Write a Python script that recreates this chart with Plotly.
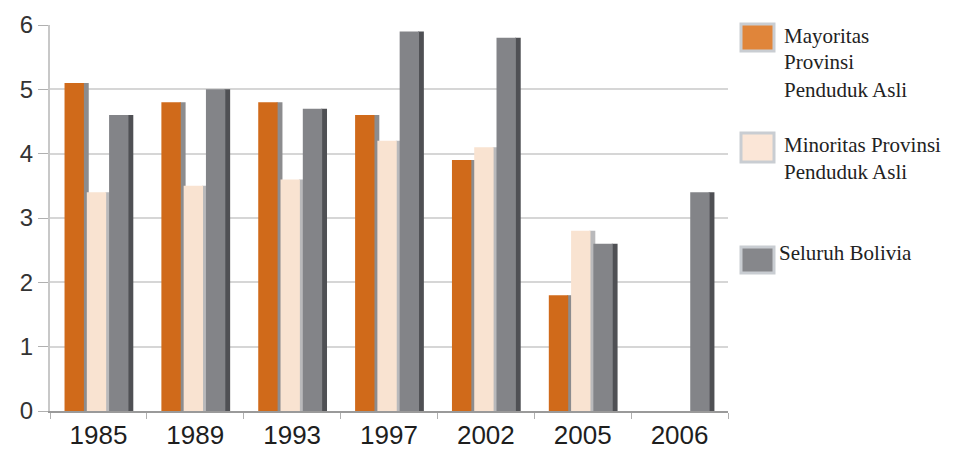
import plotly.graph_objects as go

# ---- data ----
years = ["1985", "1989", "1993", "1997", "2002", "2005", "2006"]
mayoritas = [5.1, 4.8, 4.8, 4.6, 3.9, 1.8, None]
minoritas = [3.4, 3.5, 3.6, 4.2, 4.1, 2.8, None]
seluruh = [4.6, 5.0, 4.7, 5.9, 5.8, 2.6, 3.4]
series_names = ["Mayoritas Provinsi Penduduk Asli",
                "Minoritas Provinsi Penduduk Asli",
                "Seluruh Bolivia"]
legend_lines = [["Mayoritas", "Provinsi", "Penduduk Asli"],
                ["Minoritas Provinsi", "Penduduk Asli"],
                ["Seluruh Bolivia"]]
y_ticks = [0, 1, 2, 3, 4, 5, 6]

# ---- styles ----
front_colors = ["#D06A1A", "#F9E3D1", "#838488"]
side_colors = ["#8c8c8e", "#b9b9bb", "#4f5054"]
legend_colors = ["#E0853A", "#FBE6D7", "#86878B"]
offsets = [-0.35, -0.12, 0.11]
bar_w = 0.2
side_w = 0.06

L, R, T, B = 50, 225, 25, 43
W, H = 953, 454
PW, PH = W - L - R, H - T - B

def px(x):
    return (x - L) / PW

def py(y):
    return (H - B - y) / PH

fig = go.Figure()
all_series = [mayoritas, minoritas, seluruh]

# side faces (pseudo-3D), drawn first so fronts overlap them
for vals, off, col in zip(all_series, offsets, side_colors):
    fig.add_trace(go.Bar(x=years, y=vals, offset=off + bar_w - 0.01, width=side_w,
                         marker=dict(color=col, line=dict(width=0)),
                         showlegend=False, hoverinfo="skip"))
# fronts
for vals, name, off, col in zip(all_series, series_names, offsets, front_colors):
    fig.add_trace(go.Bar(x=years, y=vals, name=name, offset=off, width=bar_w,
                         marker=dict(color=col, line=dict(width=0)),
                         showlegend=False))

fig.update_layout(
    width=W, height=H,
    margin=dict(l=L, r=R, t=T, b=B),
    paper_bgcolor="white", plot_bgcolor="white",
    barmode="overlay",
    showlegend=False,
    xaxis=dict(type="category", categoryorder="array", categoryarray=years,
               showgrid=False, showline=True, linecolor="#9a9a9a", linewidth=2,
               ticks="outside", tickson="boundaries", ticklen=6, tickcolor="#b0b0b0",
               tickfont=dict(family="Liberation Sans, Arial", size=26, color="#1e1e1e"),
               automargin=False, range=[-0.5, 6.5]),
    yaxis=dict(range=[0, 6], tickvals=y_ticks, showgrid=True, gridcolor="#d6d6d6",
               gridwidth=2, showline=True, linecolor="#c8c8c8", linewidth=2,
               ticks="outside", ticklen=10, tickcolor="#b0b0b0",
               tickfont=dict(family="Liberation Sans, Arial", size=24, color="#333333"),
               zeroline=False, automargin=False),
)

# custom legend: swatches + text
swatch_tops = [24, 133, 247]
swatch_bottoms = [51, 162, 273]
line_centers = [[36, 62, 90], [145, 172], [253]]
text_left = [782, 782, 777]
for i in range(3):
    fig.add_shape(type="rect", xref="paper", yref="paper",
                  x0=px(741), x1=px(774), y0=py(swatch_bottoms[i]), y1=py(swatch_tops[i]),
                  fillcolor=legend_colors[i], line=dict(color="#c9cdd2", width=3))
    for line, yc in zip(legend_lines[i], line_centers[i]):
        fig.add_annotation(xref="paper", yref="paper", x=px(text_left[i]), y=py(yc),
                           xanchor="left", yanchor="middle", showarrow=False,
                           text=line, font=dict(family="Liberation Serif, serif", size=21,
                                                color="#222222"))

fig.write_html("out.html")
